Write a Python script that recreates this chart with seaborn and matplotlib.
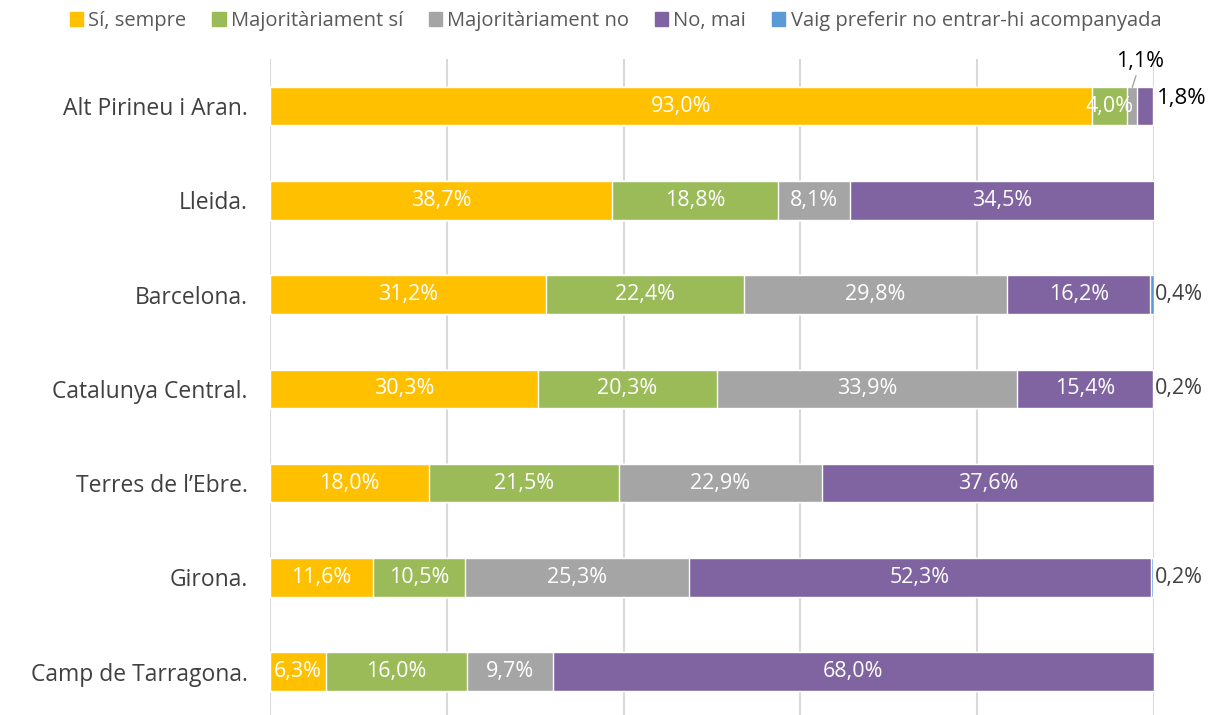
import numpy as np
import pandas as pd
import matplotlib.pyplot as plt
import seaborn as sns

sns.set_theme(style="white")
plt.rcParams["font.family"] = ["Open Sans", "DejaVu Sans"]

# =========================================================
# DONNÉES
# =========================================================

regions = ["Alt Pirineu i Aran.", "Lleida.", "Barcelona.", "Catalunya Central.",
           "Terres de l\u2019Ebre.", "Girona.", "Camp de Tarragona."]
series = ["Sí, sempre", "Majoritàriament sí", "Majoritàriament no", "No, mai",
          "Vaig preferir no entrar-hi acompanyada"]

si_sempre = [93.0, 38.7, 31.2, 30.3, 18.0, 11.6, 6.3]
major_si = [4.0, 18.8, 22.4, 20.3, 21.5, 10.5, 16.0]
major_no = [1.1, 8.1, 29.8, 33.9, 22.9, 25.3, 9.7]
no_mai = [1.8, 34.5, 16.2, 15.4, 37.6, 52.3, 68.0]
preferir = [0.0, 0.0, 0.4, 0.2, 0.0, 0.2, 0.0]

colors = ["#FFC000", "#9BBB59", "#A5A5A5", "#8064A2", "#5B9BD5"]

df = pd.DataFrame({"region": regions, series[0]: si_sempre, series[1]: major_si,
                   series[2]: major_no, series[3]: no_mai, series[4]: preferir})
cum = df[series].cumsum(axis=1)

# =========================================================
# FIGURE
# =========================================================

fig = plt.figure(figsize=(12.19, 7.15), dpi=100)
ax = fig.add_axes([270 / 1219, 0.0, 884 / 1219, 1 - 59 / 715])

# barres empilées : on dessine les cumuls de droite à gauche
for i in range(len(series) - 1, -1, -1):
    sns.barplot(x=cum[series[i]], y=df["region"], orient="h", color=colors[i],
                width=0.41, saturation=1, ax=ax, zorder=3)

ax.set_xlim(0, 100)
ax.set_ylim(6.46, -0.5)
ax.set_xticks([0, 20, 40, 60, 80, 100])
ax.set_xticklabels([])
ax.xaxis.grid(True, color="#D9D9D9", linewidth=1.5, zorder=0)
ax.yaxis.grid(False)
ax.set_xlabel("")
ax.set_ylabel("")
for s in ax.spines.values():
    s.set_visible(False)
ax.tick_params(axis="y", length=0, pad=16, labelsize=16.5, labelcolor="#404040")
ax.tick_params(axis="x", length=0)

# étiquettes
for r in range(len(regions)):
    left = 0.0
    for i, s in enumerate(series):
        v = df.loc[r, s]
        if v > 0:
            txt = f"{v:.1f}%".replace(".", ",")
            if v >= 3:
                ax.text(left + v / 2, r, txt, ha="center", va="center",
                        color="white", fontsize=15.5, zorder=5)
            elif i == 4:
                ax.text(100.1, r, txt, ha="left", va="center",
                        color="#404040", fontsize=15.5, zorder=5)
        left += v

# Alt Pirineu : petites valeurs hors barre
x_no = si_sempre[0] + major_si[0] + major_no[0] / 2
ax.annotate(f"{major_no[0]:.1f}%".replace(".", ","), xy=(x_no, -0.2),
            xytext=(x_no + 0.9, -0.47), ha="center", va="center",
            fontsize=15.5, color="black",
            arrowprops=dict(arrowstyle="-", color="#A5A5A5", lw=1, shrinkA=9, shrinkB=0))
ax.text(100.3, -0.08, f"{no_mai[0]:.1f}%".replace(".", ","), ha="left", va="center",
        fontsize=16, color="black")

# légende
handles = [plt.Rectangle((0, 0), 1, 1, color=c) for c in colors]
fig.legend(handles, series, loc="upper center", bbox_to_anchor=(0.505, 1.01), ncol=5,
           frameon=False, fontsize=14.5, labelcolor="#595959", handlelength=0.65,
           handleheight=0.65, handletextpad=0.25, columnspacing=1.3)

fig.savefig("out.png", dpi=100)
